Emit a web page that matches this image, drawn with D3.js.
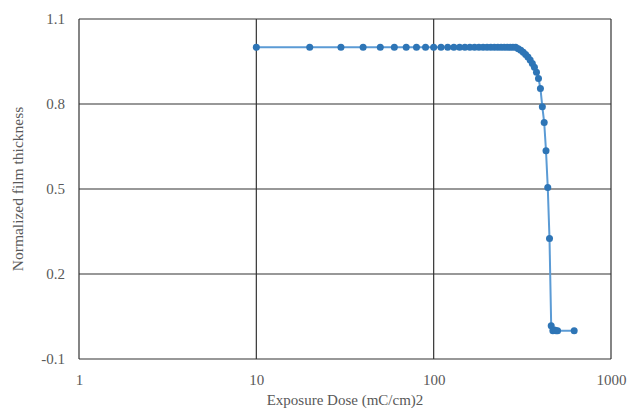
<!DOCTYPE html>
<meta charset="utf-8">
<style>
  body { margin: 0; background: #fff; }
</style>
<body>
<script src="https://cdn.jsdelivr.net/npm/d3@7"></script>
<script>
// data
var dose = [10, 20, 30, 40, 50, 60, 70, 80, 90,
  100, 110, 120, 130, 140, 150, 160, 170, 180, 190,
  200, 210, 220, 230, 240, 250, 260, 270, 280, 290,
  300, 310, 320, 330, 340, 350, 360, 370, 380, 390,
  400, 410, 420, 430, 440, 450, 460, 470, 480, 490, 500, 620];
var thickness = [1, 1, 1, 1, 1, 1, 1, 1, 1,
  1, 1, 1, 1, 1, 1, 1, 1, 1, 1,
  1, 1, 1, 1, 1, 1, 1, 1, 1, 1,
  0.995, 0.99, 0.983, 0.975, 0.966, 0.955, 0.943, 0.93, 0.912, 0.89,
  0.855, 0.79, 0.735, 0.635, 0.505, 0.325, 0.017, 0.0, 0.002, 0.0, 0.0, 0.0];
var xTicks = [1, 10, 100, 1000];
var yTicks = [-0.1, 0.2, 0.5, 0.8, 1.1];

var serif = "'Liberation Serif', 'Times New Roman', serif";

var margin = {top: 19, right: 32, bottom: 49, left: 79},
    width = 643 - margin.left - margin.right,
    height = 408 - margin.top - margin.bottom;

var x = d3.scaleLog().domain([1, 1000]).range([0, width]);
var y = d3.scaleLinear().domain([-0.1, 1.1]).range([height, 0]);

var svg = d3.select("body").append("svg")
    .attr("width", 643)
    .attr("height", 408)
  .append("g")
    .attr("transform", "translate(" + margin.left + "," + margin.top + ")");

// grid
svg.selectAll(".hgrid").data(yTicks).enter().append("line")
    .attr("x1", 0).attr("x2", width)
    .attr("y1", d => y(d)).attr("y2", d => y(d))
    .attr("stroke", "#333").attr("stroke-width", 1.2);
svg.selectAll(".vgrid").data(xTicks).enter().append("line")
    .attr("y1", 0).attr("y2", height)
    .attr("x1", d => x(d)).attr("x2", d => x(d))
    .attr("stroke", "#333").attr("stroke-width", 1.2);

// axes (labels only)
var xAxis = svg.append("g")
    .attr("transform", "translate(0," + height + ")")
    .call(d3.axisBottom(x).tickValues(xTicks).tickFormat(d3.format("d")).tickSize(0).tickPadding(15));
var yAxis = svg.append("g")
    .call(d3.axisLeft(y).tickValues(yTicks).tickFormat(d => d.toFixed(1)).tickSize(0).tickPadding(14));
[xAxis, yAxis].forEach(function(a) {
  a.attr("font-family", serif).attr("font-size", 15);
  a.select(".domain").remove();
  a.selectAll("text").attr("fill", "#595959");
});

// data
var pts = dose.map((d, i) => [d, thickness[i]]);
svg.append("path")
    .datum(pts)
    .attr("fill", "none")
    .attr("stroke", "#5b9bd5")
    .attr("stroke-width", 2)
    .attr("d", d3.line().x(d => x(d[0])).y(d => y(d[1])));
svg.selectAll(".dot").data(pts).enter().append("circle")
    .attr("cx", d => x(d[0])).attr("cy", d => y(d[1]))
    .attr("r", 3.5)
    .attr("fill", "#2e75b6");

// titles
svg.append("text")
    .attr("x", width / 2).attr("y", height + 46)
    .attr("text-anchor", "middle")
    .attr("fill", "#595959")
    .attr("font-family", serif).attr("font-size", 15)
    .text("Exposure Dose (mC/cm)2");
svg.append("text")
    .attr("transform", "translate(" + (-56) + "," + (height / 2) + ") rotate(-90)")
    .attr("text-anchor", "middle")
    .attr("fill", "#595959")
    .attr("font-family", serif).attr("font-size", 15.5)
    .text("Normalized film thickness");
</script>
</body>
